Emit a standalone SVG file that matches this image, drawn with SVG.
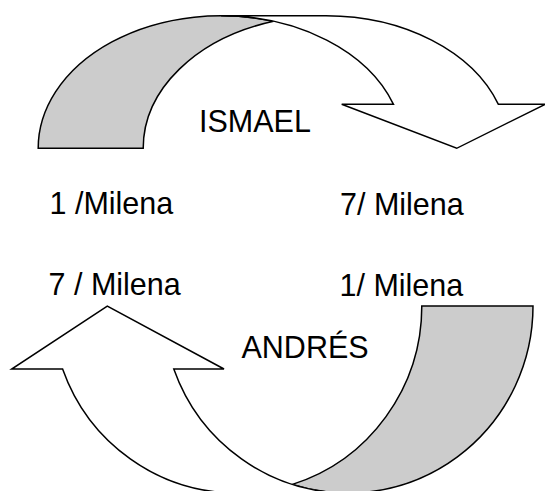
<svg xmlns="http://www.w3.org/2000/svg" width="545" height="491" viewBox="0 0 545 491">
<style>
.band{stroke:#000;stroke-width:1.5;stroke-linejoin:miter}
.back{fill:#cccccc}
.front{fill:#ffffff}
.lbl{font-family:"Liberation Sans",Arial,sans-serif;font-size:30.5px;fill:#000}
</style>
<rect width="545" height="491" fill="#ffffff"/>
<g id="arrow-top">
<path class="band back" d="M 38.2 148.3 A 182.8 132.6 0 0 1 273.5 21.3 A 182.8 132.6 0 0 0 143.2 148.3 Z"/>
<path class="band front" d="M 221 15.7 A 182.8 132.6 0 0 1 393.5 104.3 L 341.7 104.3 L 456.7 148.3 L 545 104.3 L 498.4 104.3 A 182.8 132.6 0 0 0 326 15.7 Z"/>
</g>
<g id="arrow-bottom">
<path class="band back" d="M 533 306 A 185 187 0 0 1 292.4 484.4 A 185 187 0 0 0 421.8 306 Z"/>
<path class="band front" d="M 348 493 A 185 187 0 0 1 173.8 369 L 224 369 L 107.3 306 L 11.7 369 L 62.6 369 A 185 187 0 0 0 236.8 493 Z"/>
</g>
<g id="label-ismael"><text class="lbl" x="199" y="132">ISMAEL</text></g>
<g id="label-1-milena-top"><text class="lbl" x="49.5" y="214">1 /Milena</text></g>
<g id="label-7-milena-top"><text class="lbl" x="340" y="215">7/ Milena</text></g>
<g id="label-7-milena-bottom"><text class="lbl" x="48.5" y="295">7 / Milena</text></g>
<g id="label-1-milena-bottom"><text class="lbl" x="339.5" y="296">1/ Milena</text></g>
<g id="label-andres"><text class="lbl" x="241.5" y="358">ANDRÉS</text></g>
</svg>
